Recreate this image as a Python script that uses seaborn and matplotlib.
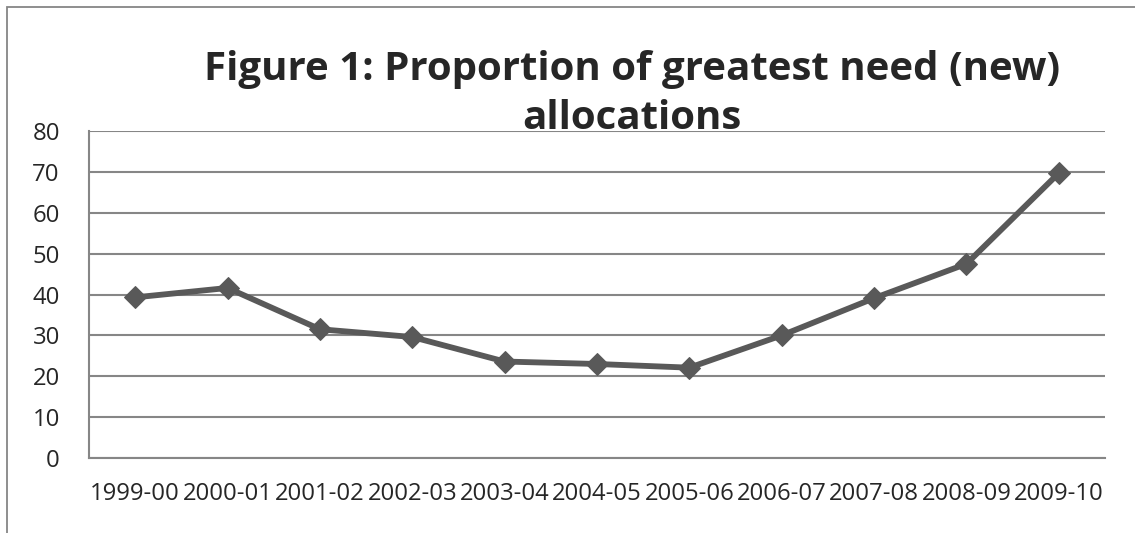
import numpy as np
import pandas as pd
import seaborn as sns
import matplotlib.pyplot as plt
from matplotlib.patches import Rectangle

# values
years = ["1999-00", "2000-01", "2001-02", "2002-03", "2003-04", "2004-05",
         "2005-06", "2006-07", "2007-08", "2008-09", "2009-10"]
proportion = [39.3, 41.6, 31.5, 29.6, 23.6, 23.0, 22.1, 30.0, 39.1, 47.5, 69.7]
y_ticks = [0, 10, 20, 30, 40, 50, 60, 70, 80]

sns.set_style("white")
plt.rcParams["font.family"] = ["Open Sans", "DejaVu Sans"]

grid_col = "#868686"
line_col = "#595959"

df = pd.DataFrame({"year": years, "value": proportion})

fig = plt.figure(figsize=(11.35, 5.33), dpi=100)
ax = fig.add_axes([89 / 1135, 75 / 533, (1105 - 89) / 1135, (458 - 131) / 533])

sns.lineplot(data=df, x="year", y="value", ax=ax, sort=False,
             color=line_col, linewidth=4.2, marker="D", markersize=11,
             markeredgecolor=line_col, markerfacecolor=line_col, zorder=3)

ax.set_ylim(0, 80)
ax.set_xlim(-0.5, len(years) - 0.5)
ax.set_yticks(y_ticks)
ax.set_yticklabels([str(t) for t in y_ticks])
ax.yaxis.grid(True, color=grid_col, linewidth=1.5)
ax.xaxis.grid(False)
ax.set_axisbelow(True)

# category ticks sit between categories, labels in the middle
ax.set_xticks(np.arange(-0.5, len(years)), labels=[""] * (len(years) + 1))
ax.set_xticks(np.arange(len(years)), labels=years, minor=True)
ax.tick_params(axis="x", which="major", length=8, width=1.5, color=grid_col, direction="out")
ax.tick_params(axis="x", which="minor", length=0, labelsize=17.2, pad=17)
ax.tick_params(axis="y", length=9, width=1.5, color=grid_col, direction="out",
               labelsize=17.2, pad=12)
ax.set_xlabel("")
ax.set_ylabel("")

for side in ["top", "right"]:
    ax.spines[side].set_visible(False)
for side in ["left", "bottom"]:
    ax.spines[side].set_color(grid_col)
    ax.spines[side].set_linewidth(1.5)

fig.text(632 / 1135, 1 - 129 / 533, "Figure 1: Proportion of greatest need (new)\nallocations",
         ha="center", va="baseline", fontsize=29, fontweight="bold",
         linespacing=1.32, multialignment="center")

# outer chart border, cropped at right and bottom
fig.patches.append(Rectangle((7 / 1135, -0.1), 1.2, 1 - 7 / 533 + 0.1,
                             transform=fig.transFigure, fill=False,
                             edgecolor=grid_col, linewidth=1.3))

fig.savefig("out.png", dpi=100)
